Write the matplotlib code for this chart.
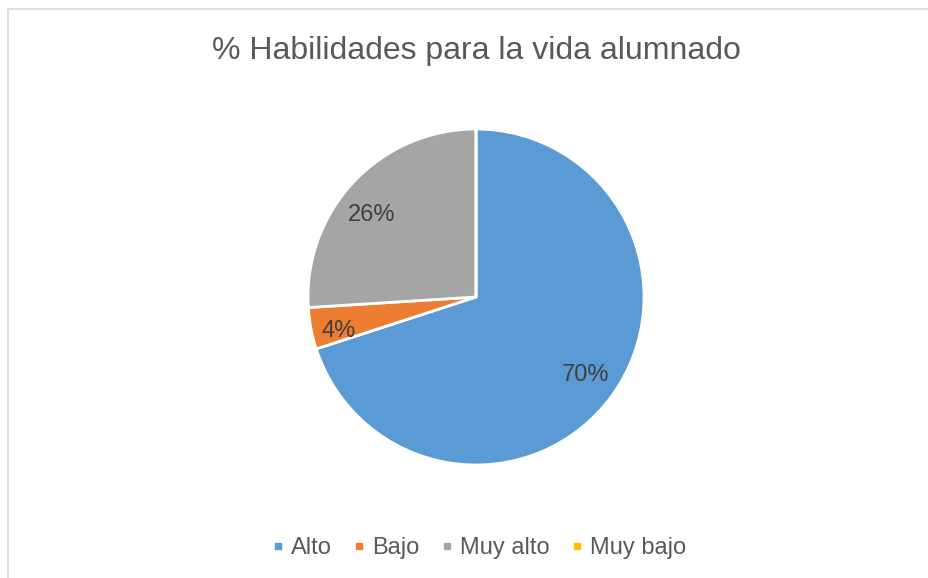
import numpy as np
import matplotlib
matplotlib.use("Agg")
import matplotlib.pyplot as plt
from matplotlib.lines import Line2D
from matplotlib.patches import Rectangle

plt.rcParams['font.family'] = ['Liberation Sans', 'DejaVu Sans']

# data
categories = ['Alto', 'Bajo', 'Muy alto', 'Muy bajo']
percentages = [70, 4, 26, 0]
colors = ['#5B9BD5', '#ED7D31', '#A5A5A5', '#FFC000']
title = '% Habilidades para la vida alumnado'

W, H = 929, 578
fig = plt.figure(figsize=(W / 100, H / 100), dpi=100)

# light grey chart frame (right/bottom edge fall outside the image)
fig.patches.append(Rectangle((8 / W, -0.05), 1.0, 1 - 9 / H + 0.05,
                             transform=fig.transFigure, fill=False,
                             edgecolor='#D9D9D9', linewidth=1.2))

# square axes for the pie, centred at (476, 297) px, radius 168 px
r_px = 168
cx, cy = 476, 297
ax = fig.add_axes([(cx - r_px) / W, (H - cy - r_px) / H, 2 * r_px / W, 2 * r_px / H])
wedges, _ = ax.pie(percentages, colors=colors, startangle=90, counterclock=False,
                   radius=1, wedgeprops=dict(edgecolor='white', linewidth=2))
ax.set_xlim(-1, 1)
ax.set_ylim(-1, 1)
ax.axis('off')

# data labels: distance from centre and small angle nudge (deg) like Excel's placement
label_dist = [0.79, 0.84, 0.80, 0.8]
label_nudge = [1.5, 1.9, 4.0, 0]
for w, p, d, a in zip(wedges, percentages, label_dist, label_nudge):
    if p == 0:
        continue
    mid = np.deg2rad((w.theta1 + w.theta2) / 2 + a)
    ax.text(d * np.cos(mid), d * np.sin(mid), f'{p}%', ha='center', va='center_baseline',
            fontsize=17, color='#404040')

fig.text(cx / W, 1 - 51 / H, title, ha='center', va='center', fontsize=23, color='#595959')

handles = [Line2D([], [], marker='s', linestyle='none', markersize=5,
                  markerfacecolor=c, markeredgecolor=c) for c in colors]
fig.legend(handles, categories, loc='center', bbox_to_anchor=((cx + 3) / W, 1 - 548 / H),
           ncol=4, frameon=False, fontsize=17, labelcolor='#595959',
           handletextpad=0.3, columnspacing=0.92, handlelength=0.5)

fig.savefig('out.png', dpi=100)
